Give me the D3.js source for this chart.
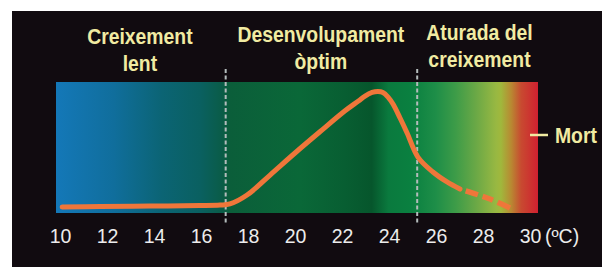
<!DOCTYPE html>
<html><head><meta charset="utf-8">
<script src="https://cdn.jsdelivr.net/npm/d3@7"></script>
<style>html,body{margin:0;padding:0;background:#fff;}svg{display:block;}</style>
</head><body>
<svg id="chart" width="602" height="267"></svg>
<script>
// ---- data ----
const tempTicks = [10, 12, 14, 16, 18, 20, 22, 24, 26, 28, 30];
const unitLabel = "(ºC)";
const zoneBounds = [17.05, 25.2];
const zoneTitles = [
  { lines: ["Creixement", "lent"], center: 13.4 },
  { lines: ["Desenvolupament", "òptim"], center: 21.1 },
  { lines: ["Aturada del", "creixement"], center: 27.85 }
];
const deathLabel = "Mort";
const solidTemp   = [10.09, 11.7, 13.83, 15.96, 16.81, 17.23, 17.96, 18.94, 20.0, 21.06, 22.13, 22.7, 22.98, 23.28, 23.53, 23.74, 23.96, 24.17, 24.47, 24.77, 25.23, 25.87, 26.47, 27.02];
const solidGrowth = [4.6, 5.0, 5.3, 5.7, 6.1, 6.9, 13.7, 29.0, 45.8, 62.0, 78.0, 85.5, 89.3, 92.0, 92.7, 92.0, 88.5, 83.2, 72.5, 61.1, 42.7, 31.3, 23.7, 18.3];
const dashTemp    = [27.02, 27.6, 28.3, 29.15];
const dashGrowth  = [18.3, 15.0, 10.7, 3.8];
const bandExtent  = [9.83, 30.34];

// ---- drawing ----
const svg = d3.select("#chart");
const x = d3.scaleLinear().domain([10, 30]).range([60, 530]);
const y = d3.scaleLinear().domain([0, 100]).range([213, 82]);

svg.append("rect").attr("x", 12).attr("y", 11).attr("width", 590).attr("height", 256).attr("fill", "#110b10");

const defs = svg.append("defs");
const grad = defs.append("linearGradient").attr("id", "band").attr("x1", "0").attr("x2", "1").attr("y1", "0").attr("y2", "0");
[[0, "#1478b8"], [0.12, "#106e9c"], [0.22, "#0b6474"], [0.3, "#0a6060"], [0.344, "#0a5c48"], [0.361, "#0b5e3a"],
 [0.506, "#0a6838"], [0.6, "#085e32"], [0.655, "#06562c"], [0.69, "#0a7a3e"], [0.737, "#0a8040"],
 [0.788, "#1e8e48"], [0.83, "#3e9c48"], [0.871, "#6aa846"], [0.913, "#98b842"], [0.923, "#a0b83c"],
 [0.944, "#b88a32"], [0.965, "#c84a30"], [1, "#d02030"]]
 .forEach(([o, c]) => grad.append("stop").attr("offset", o).attr("stop-color", c));

svg.append("rect")
  .attr("x", x(bandExtent[0])).attr("y", y(100))
  .attr("width", x(bandExtent[1]) - x(bandExtent[0]))
  .attr("height", y(0) - y(100))
  .attr("fill", "url(#band)");

// zone separators
svg.selectAll("line.sep").data(zoneBounds).join("line")
  .attr("class", "sep")
  .attr("x1", d => x(d)).attr("x2", d => x(d))
  .attr("y1", 69).attr("y2", 223)
  .attr("stroke", "#b4bcbc").attr("stroke-width", 2).attr("stroke-dasharray", "4,2.5");

// curve
const line = d3.line().x(d => x(d[0])).y(d => y(d[1])).curve(d3.curveCatmullRom.alpha(0.5));
svg.append("path")
  .attr("d", line(d3.zip(solidTemp, solidGrowth)))
  .attr("fill", "none").attr("stroke", "#ef763a").attr("stroke-width", 5)
  .attr("stroke-linecap", "round").attr("stroke-linejoin", "round");
svg.append("path")
  .attr("d", line(d3.zip(dashTemp, dashGrowth)))
  .attr("fill", "none").attr("stroke", "#ef763a").attr("stroke-width", 5.5)
  .attr("stroke-dasharray", "0,6,13,5,11,5,12");

// axis
const axis = d3.axisBottom(x).tickValues(tempTicks).tickSize(0).tickPadding(0).tickFormat(d3.format("d"));
const ag = svg.append("g").attr("transform", "translate(0,229)").call(axis);
ag.select(".domain").remove();
ag.selectAll("text").attr("fill", "#ececec").attr("font-family", "Liberation Sans, Arial, sans-serif")
  .attr("font-size", 19.5).attr("dy", "0.72em");
svg.append("text").attr("x", x(30) + 15).attr("y", 243).text(unitLabel)
  .attr("fill", "#ececec").attr("font-family", "Liberation Sans, Arial, sans-serif").attr("font-size", 19.5);

// zone titles
const titleFont = "Liberation Sans, Arial, sans-serif";
const baseY = [44, 42, 40];
zoneTitles.forEach((z, i) => {
  z.lines.forEach((t, j) => {
    svg.append("text")
      .attr("transform", `translate(${x(z.center)},${baseY[i] + j * 27}) scale(0.88,1)`)
      .attr("text-anchor", "middle")
      .attr("font-family", titleFont)
      .attr("font-weight", "bold").attr("font-size", 22)
      .attr("fill", "#f1eba2").text(t);
  });
});

// death marker
svg.append("line").attr("x1", x(30)).attr("x2", x(30) + 18).attr("y1", 135).attr("y2", 135)
  .attr("stroke", "#f1eba2").attr("stroke-width", 2.5);
svg.append("text").attr("transform", `translate(${x(30) + 25},143) scale(0.88,1)`)
  .attr("font-family", titleFont)
  .attr("font-weight", "bold").attr("font-size", 22).attr("fill", "#f1eba2").text(deathLabel);
</script>
</body></html>
